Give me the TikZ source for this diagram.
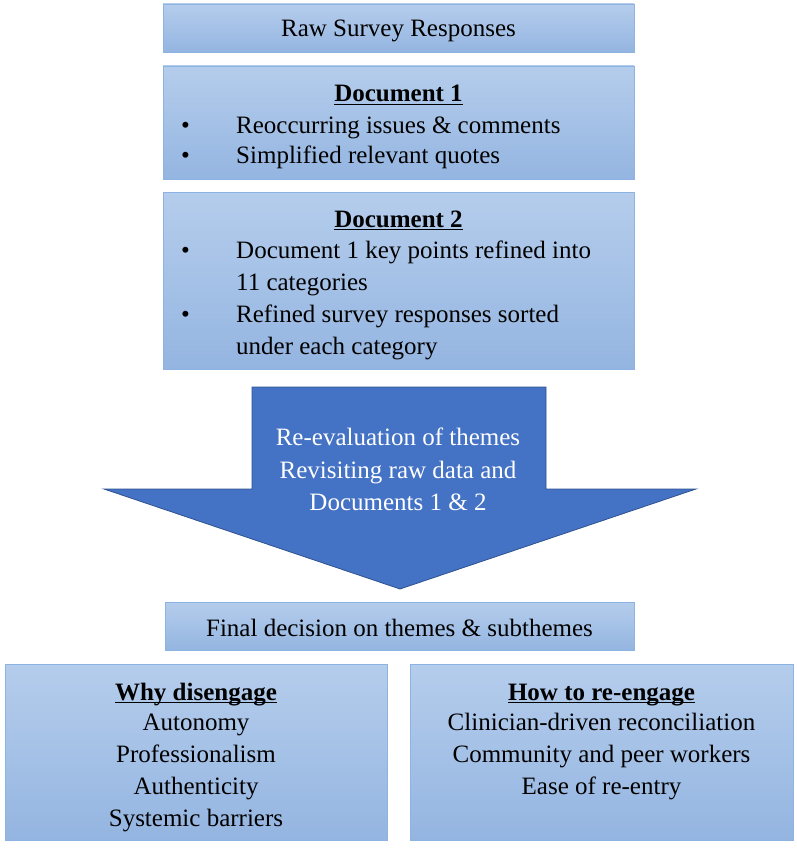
\documentclass[tikz,border=0pt]{standalone}
\usepackage{fontspec}
\setmainfont{Liberation Serif}
\definecolor{boxtop}{HTML}{B5CDEC}
\definecolor{boxbot}{HTML}{94B5E1}
\definecolor{boxline}{HTML}{8DB3E2}
\definecolor{arrfill}{HTML}{4472C4}
\definecolor{arrline}{HTML}{2F528F}
\newcommand\myul[1]{\setbox0\hbox{#1}\rlap{\rule[-3pt]{\wd0}{1.2pt}}\box0}
\begin{document}
\begin{tikzpicture}[x=1pt,y=-1pt,
  box/.style={draw=boxline, line width=0.8pt, top color=boxtop, bottom color=boxbot, inner sep=0pt},
  txt/.style={inner sep=0pt, anchor=base, font=\fontsize{25}{30}\selectfont},
  ltxt/.style={txt, anchor=base west},
  wtxt/.style={txt, text=white}]
\useasboundingbox (0,0) rectangle (797,848);
% boxes
\node[box, minimum width=471pt, minimum height=48pt] (raw) at (398.5,28) {};
\node[box, minimum width=471pt, minimum height=113pt] (doca) at (398.5,122.5) {};
\node[box, minimum width=471pt, minimum height=177pt] (docb) at (398.5,280.5) {};
\node[box, minimum width=469pt, minimum height=48pt] (final) at (399.5,626) {};
\node[box, minimum width=382pt, minimum height=176pt] (why) at (196,752) {};
\node[box, minimum width=383pt, minimum height=176pt] (how) at (601.5,752) {};
% arrow
\coordinate (a1) at (252,387);
\coordinate (a2) at (546,387);
\coordinate (a3) at (546,489);
\coordinate (a4) at (696,489);
\coordinate (a5) at (400,589);
\coordinate (a6) at (104,489);
\coordinate (a7) at (252,489);
\draw[fill=arrfill, draw=arrline, line width=0.8pt, line join=miter] (a1) -- (a2) -- (a3) -- (a4) -- (a5) -- (a6) -- (a7) -- cycle;
% texts
\node[txt] (t-raw) at (398.5,37) {Raw Survey Responses};
\node[txt] (t-d1) at (398.5,102) {\textbf{\myul{Document 1}}};
\node[ltxt] (b-d1a) at (181,133) {•};
\node[ltxt] (t-d1a) at (236,133) {Reoccurring issues \& comments};
\node[ltxt] (b-d1b) at (181,163) {•};
\node[ltxt] (t-d1b) at (236,163) {Simplified relevant quotes};
\node[txt] (t-d2) at (398.5,227) {\textbf{\myul{Document 2}}};
\node[ltxt] (b-d2a) at (181,258) {•};
\node[ltxt] (t-d2a) at (236,258) {Document 1 key points refined into};
\node[ltxt] (t-d2b) at (236,290) {11 categories};
\node[ltxt] (b-d2c) at (181,322) {•};
\node[ltxt] (t-d2c) at (236,322) {Refined survey responses sorted};
\node[ltxt] (t-d2d) at (236,354) {under each category};
\node[wtxt] (t-ar1) at (398,445) {Re-evaluation of themes};
\node[wtxt] (t-ar2) at (398,478) {Revisiting raw data and};
\node[wtxt] (t-ar3) at (398,510) {Documents 1 \& 2};
\node[txt] (t-fin) at (399.5,636) {Final decision on themes \& subthemes};
\node[txt] (t-why) at (196,700) {\textbf{\myul{Why disengage}}};
\node[txt] (t-w1) at (196,730) {Autonomy};
\node[txt] (t-w2) at (196,762) {Professionalism};
\node[txt] (t-w3) at (196,794) {Authenticity};
\node[txt] (t-w4) at (196,826) {Systemic barriers};
\node[txt] (t-how) at (601.5,700) {\textbf{\myul{How to re-engage}}};
\node[txt] (t-h1) at (601.5,730) {Clinician-driven reconciliation};
\node[txt] (t-h2) at (601.5,762) {Community and peer workers};
\node[txt] (t-h3) at (601.5,794) {Ease of re-entry};
\end{tikzpicture}
\end{document}
